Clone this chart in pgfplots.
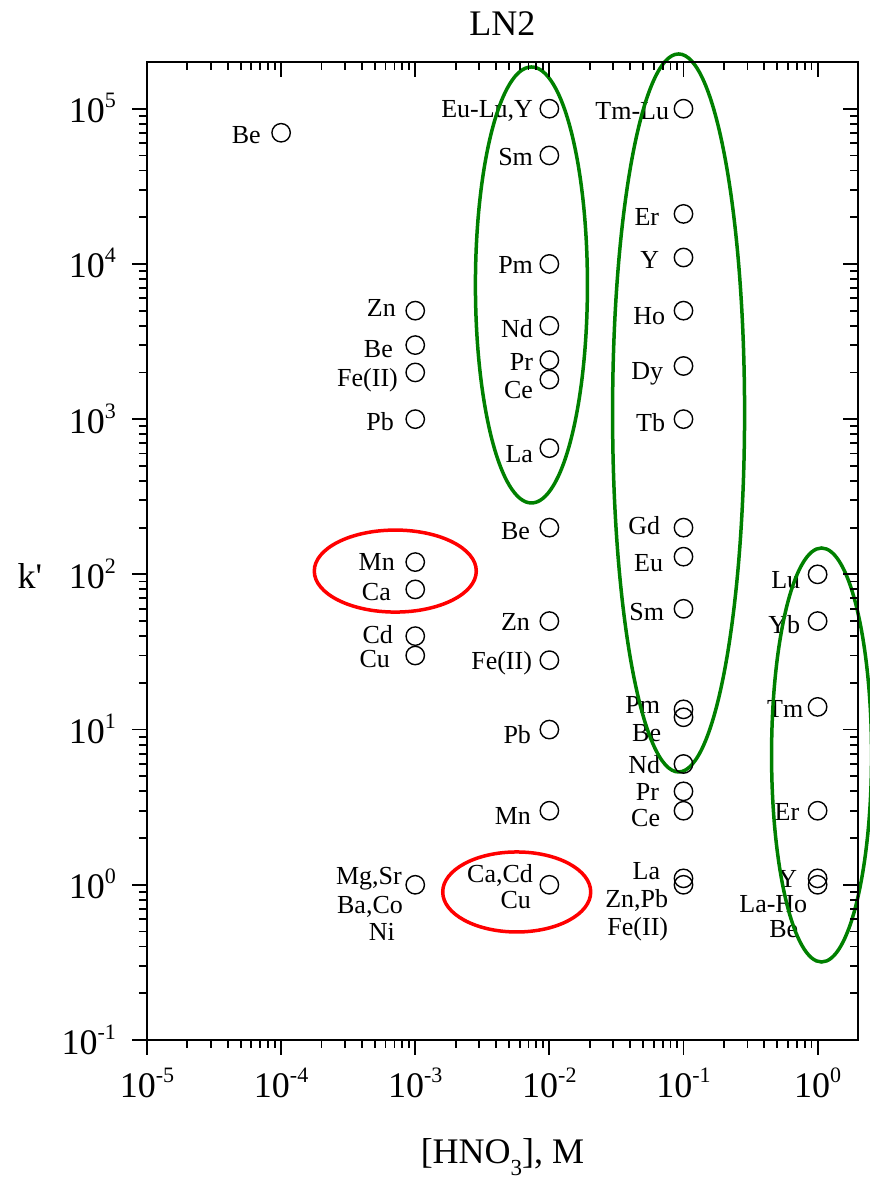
\documentclass[border=0pt]{standalone}
\usepackage{pgfplots}
\pgfplotsset{compat=1.18}
\usepackage{fontspec}
\setmainfont{Liberation Serif}
\newcommand\bigf{\fontsize{18}{21}\selectfont}
\newcommand\lfont{\fontsize{13}{15}\selectfont}
\newcommand\sups[1]{\raisebox{7.5pt}{\fontsize{11}{12}\selectfont #1}}
\newcommand\lab[5]{\node[anchor=base east,inner sep=0pt,xshift=#3pt,yshift=#4pt,font=\lfont] at (axis cs:#1,#2) {#5};}
\definecolor{ellgreen}{RGB}{0,128,0}
\pgfplotstableread{
x y
1e-4 7e4
1e-3 5000
1e-3 3000
1e-3 2000
1e-3 1000
1e-3 120
1e-3 80
1e-3 40
1e-3 30
1e-3 1
1e-2 1e5
1e-2 5e4
1e-2 1e4
1e-2 4000
1e-2 2400
1e-2 1800
1e-2 650
1e-2 200
1e-2 50
1e-2 28
1e-2 10
1e-2 3
1e-2 1
1e-1 1e5
1e-1 2.1e4
1e-1 1.1e4
1e-1 5000
1e-1 2200
1e-1 1000
1e-1 200
1e-1 130
1e-1 60
1e-1 13.5
1e-1 12
1e-1 6
1e-1 4
1e-1 3
1e-1 1.1
1e-1 1
1 100
1 50
1 14
1 3
1 1.1
1 1
}\kdata
\begin{document}
\begin{tikzpicture}
\begin{axis}[xmode=log, ymode=log, scale only axis, width=355.5pt, height=489pt,
  xmin=1e-5, xmax=2, ymin=1e-1, ymax=2e5,
  xtick={1e-5,1e-4,1e-3,1e-2,1e-1,1}, ytick={1e-1,1,10,100,1000,1e4,1e5},
  major tick length=7.5pt, minor tick length=4pt,
  every tick/.style={black, line width=0.9pt},
  axis line style={line width=1pt}, clip=false,
 xtick pos=left, ytick pos=left, tick align=outside,
 xticklabels={10\sups{-5},10\sups{-4},10\sups{-3},10\sups{-2},10\sups{-1},10\sups{0}},
 yticklabels={10\sups{-1},10\sups{0},10\sups{1},10\sups{2},10\sups{3},10\sups{4},10\sups{5}},
 ticklabel style={font=\bigf},
 xticklabel style={anchor=base, yshift=-21.5pt},
 yticklabel style={anchor=base east, xshift=-4.5pt, yshift=-7pt},
 title={LN2}, title style={font=\bigf, anchor=base, at={(0.5,1)}, yshift=7pt},
 xlabel={[HNO\raisebox{-6pt}{\fontsize{11.5}{12}\selectfont 3}], M},
 xlabel style={font=\bigf, anchor=base, at={(0.5,0)}, yshift=-61.5pt},
 ylabel={k\textquotesingle},
 ylabel style={font=\bigf, rotate=-90, anchor=center, at={(0,0.474)}, xshift=-58.5pt},
]
\coordinate (SW) at (rel axis cs:0,0);
\coordinate (NE) at (rel axis cs:1,1);
\addplot[only marks, mark=o, mark size=4.6pt, mark options={line width=0.7pt, black}] table[x=x,y=y] {\kdata};
% labels
\lab{1e-4}{7e4}{-10}{-5.3}{Be}
\lab{1e-3}{5000}{-9.5}{-3}{Zn}
\lab{1e-3}{3000}{-11}{-6}{Be}
\lab{1e-3}{2000}{-8.5}{-7}{Fe(II)}
\lab{1e-3}{1000}{-10.5}{-5.5}{Pb}
\lab{1e-3}{120}{-10}{-4}{Mn}
\lab{1e-3}{80}{-12}{-5.5}{Ca}
\lab{1e-3}{40}{-11}{-3.5}{Cd}
\lab{1e-3}{30}{-12.5}{-6}{Cu}
\lab{1e-3}{1}{-6.5}{0}{Mg,Sr}
\lab{1e-3}{1}{-6}{-14.5}{Ba,Co}
\lab{1e-3}{1}{-10}{-28}{Ni}
\lab{1e-2}{1e5}{-8}{-4.5}{Eu-Lu,Y}
\lab{1e-2}{5e4}{-8}{-5}{Sm}
\lab{1e-2}{1e4}{-8}{-5}{Pm}
\lab{1e-2}{4000}{-8}{-6}{Nd}
\lab{1e-2}{2400}{-8}{-5}{Pr}
\lab{1e-2}{1800}{-8}{-9.5}{Ce}
\lab{1e-2}{650}{-8}{-7}{La}
\lab{1e-2}{200}{-9.5}{-6}{Be}
\lab{1e-2}{50}{-9.5}{-4.5}{Zn}
\lab{1e-2}{28}{-8.5}{-4.5}{Fe(II)}
\lab{1e-2}{10}{-9}{-7}{Pb}
\lab{1e-2}{3}{-9}{-7}{Mn}
\lab{1e-2}{1}{-8}{1}{Ca,Cd}
\lab{1e-2}{1}{-9}{-12}{Cu}
\lab{1e-1}{1e5}{-7}{-5.5}{Tm-Lu}
\lab{1e-1}{2.1e4}{-12}{-6}{Er}
\lab{1e-1}{1.1e4}{-12}{-5.5}{Y}
\lab{1e-1}{5000}{-9}{-7}{Ho}
\lab{1e-1}{2200}{-10}{-7}{Dy}
\lab{1e-1}{1000}{-9}{-6}{Tb}
\lab{1e-1}{200}{-11.5}{-3.5}{Gd}
\lab{1e-1}{130}{-10}{-7.5}{Eu}
\lab{1e-1}{60}{-9.5}{-6}{Sm}
\lab{1e-1}{13.5}{-11.5}{-2}{Pm}
\lab{1e-1}{12}{-11}{-12}{Be}
\lab{1e-1}{6}{-11.5}{-4.5}{Nd}
\lab{1e-1}{4}{-12}{-4.5}{Pr}
\lab{1e-1}{3}{-11.5}{-8}{Ce}
\lab{1e-1}{1.1}{-11.5}{-0.5}{La}
\lab{1e-1}{1}{-7.5}{-11.5}{Zn,Pb}
\lab{1e-1}{1}{-7.5}{-25.5}{Fe(II)}
\lab{1}{100}{-8.5}{-7}{Lu}
\lab{1}{50}{-8.5}{-6}{Yb}
\lab{1}{14}{-7}{-5.5}{Tm}
\lab{1}{3}{-9}{-5}{Er}
\lab{1}{1.1}{-10}{-4.5}{Y}
\lab{1}{1}{-5}{-14}{La-Ho}
\lab{1}{1}{-9.5}{-26.5}{Be}
% ellipses
\draw[ellgreen, line width=1.75pt] (axis cs:7.35e-3,7320) ellipse [x radius=28pt, y radius=109pt];
\draw[ellgreen, line width=1.75pt] (axis cs:0.0919,1096) ellipse [x radius=33pt, y radius=179.5pt];
\draw[ellgreen, line width=1.75pt] (axis cs:1.07,6.86) ellipse [x radius=25pt, y radius=103.5pt];
\draw[red, line width=1.75pt] (axis cs:7.1e-4,105) ellipse [x radius=40.5pt, y radius=20.5pt];
\draw[red, line width=1.75pt] (axis cs:5.71e-3,0.899) ellipse [x radius=37pt, y radius=20pt];
\end{axis}
\begin{axis}[xmode=log, ymode=log, scale only axis, width=355.5pt, height=489pt,
  xmin=1e-5, xmax=2, ymin=1e-1, ymax=2e5,
  xtick={1e-5,1e-4,1e-3,1e-2,1e-1,1}, ytick={1e-1,1,10,100,1000,1e4,1e5},
  major tick length=7.5pt, minor tick length=4pt,
  every tick/.style={black, line width=0.9pt},
  axis line style={line width=1pt},
 xtick pos=right, ytick pos=right, tick align=inside,
 xticklabels={}, yticklabels={}]
\end{axis}
\pgfresetboundingbox
\path[use as bounding box] ([shift={(-73.5pt,-68.5pt)}]SW) rectangle ([shift={(6pt,31pt)}]NE);
\end{tikzpicture}
\end{document}
